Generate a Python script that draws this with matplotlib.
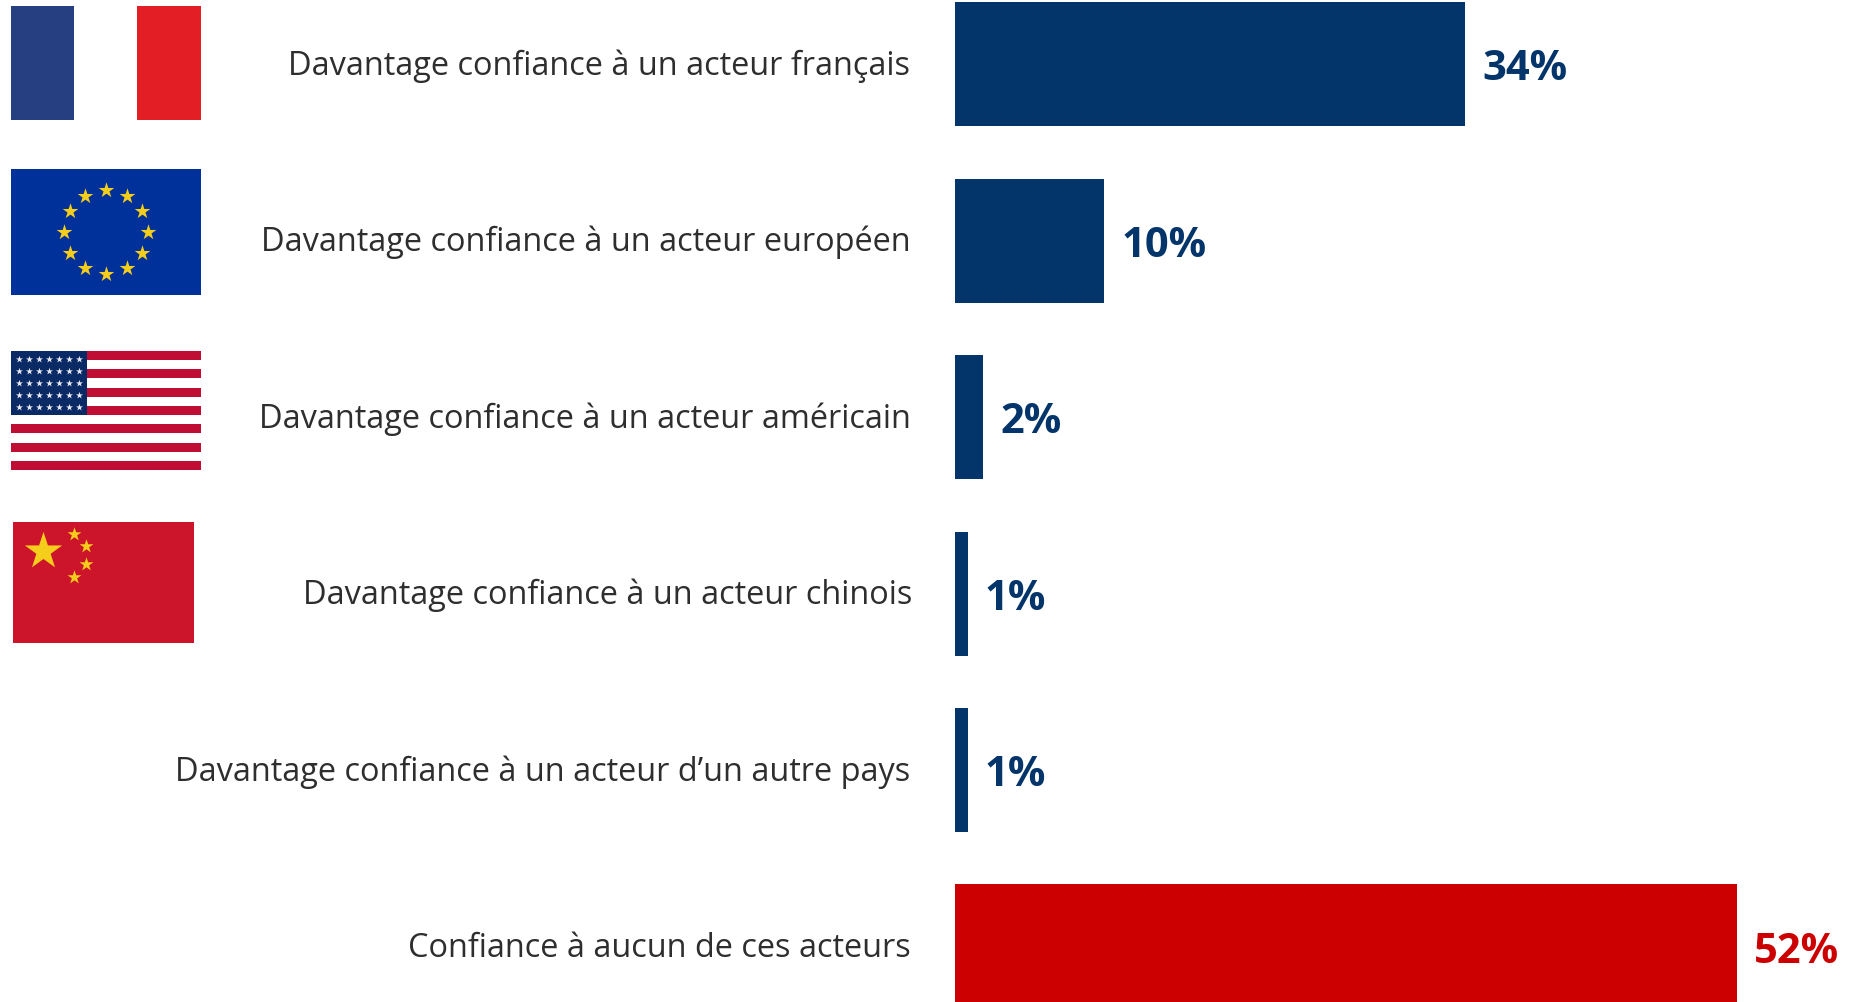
import math
import matplotlib
matplotlib.use("Agg")
import matplotlib.pyplot as plt
from matplotlib.patches import Rectangle

categories = [
    "Davantage confiance à un acteur français",
    "Davantage confiance à un acteur européen",
    "Davantage confiance à un acteur américain",
    "Davantage confiance à un acteur chinois",
    "Davantage confiance à un acteur d’un autre pays",
    "Confiance à aucun de ces acteurs",
]
valeurs = [33.9, 9.9, 1.85, 0.8, 0.8, 51.95]
etiquettes = ["34%", "10%", "2%", "1%", "1%", "52%"]

BLEU = "#03356A"
ROUGE = "#CC0000"
couleurs = [BLEU, BLEU, BLEU, BLEU, BLEU, ROUGE]

W, H = 1858, 1003
X0 = 955.5       # debut des barres en pixels
PX_PAR_PT = 15.04
PITCH = 176.5
Y_CENTRE = 65

fig = plt.figure(figsize=(W / 100, H / 100), dpi=100, facecolor="white")

# axe des barres
ax = fig.add_axes([X0 / W, 0, 1 - X0 / W, 1])
ax.barh(range(len(valeurs)), valeurs, height=124 / PITCH, color=couleurs)
ax.set_xlim(0, (W - X0) / PX_PAR_PT)
ax.set_ylim((H - Y_CENTRE) / PITCH, -Y_CENTRE / PITCH)
ax.axis("off")

for i, (v, e, c) in enumerate(zip(valeurs, etiquettes, couleurs)):
    ax.annotate(e, (v, i), xytext=(17, -5), textcoords="offset pixels", color=c,
                fontsize=30, fontweight="bold", family="Open Sans",
                va="center", ha="left", annotation_clip=False)
    decal = 2 if i == 3 else 0
    ax.annotate(categories[i], (0, i), xytext=(-45 + decal, -1), textcoords="offset pixels",
                color="#2E2E2E", fontsize=23.4, family="Open Sans",
                va="center", ha="right", annotation_clip=False)

# drapeaux dessines en pixels
fl = fig.add_axes([0, 0, 1, 1], zorder=-1)
fl.set_xlim(0, W)
fl.set_ylim(H, 0)
fl.axis("off")


def rect(x0, y0, x1, y1, c):
    fl.add_patch(Rectangle((x0, y0), x1 - x0, y1 - y0, facecolor=c, edgecolor="none"))


def etoiles(xs, ys, taille, c):
    fl.scatter(xs, ys, marker="*", s=taille, color=c, linewidths=0)


# France
rect(11, 6.5, 74, 120.5, "#253F80")
rect(137, 6.5, 201, 120.5, "#E31E24")

# Europe
rect(11, 170, 201, 296, "#00309A")
ex = [106 + 42 * math.sin(k * math.pi / 6) for k in range(12)]
ey = [233 - 42 * math.cos(k * math.pi / 6) for k in range(12)]
etoiles(ex, ey, 140, "#F5CE1C")

# USA
for k in range(7):
    y = 352 + k * 2 * 119 / 13
    rect(11, y, 201, y + 119 / 13, "#BF0D33")
rect(11, 352, 87, 416, "#0A2A66")
sx = [19, 29, 39, 49, 59, 69, 79]
sy = [360.3, 372.3, 383.7, 395.7, 407.7]
etoiles([x for x in sx for _ in sy], [y for _ in sx for y in sy], 28, "#E8E8F0")

# Chine
rect(13, 522.5, 194, 644, "#CC142B")
etoiles([43], [552], 800, "#F5CE1C")
etoiles([74, 86, 86, 74], [535, 547, 565, 578], 110, "#F5CE1C")

fig.savefig("out.png", dpi=100)
